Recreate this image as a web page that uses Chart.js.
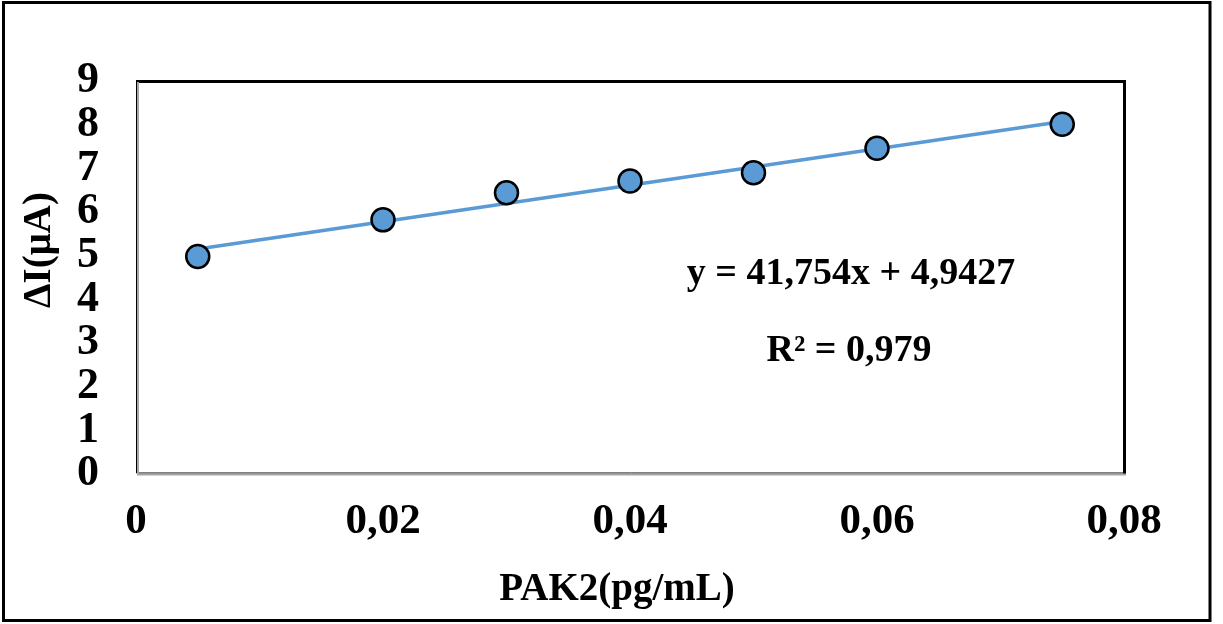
<!DOCTYPE html>
<html>
<head>
<meta charset="utf-8">
<script src="https://cdn.jsdelivr.net/npm/chart.js@4/dist/chart.umd.min.js"></script>
<style>
  html, body { margin: 0; padding: 0; background: #ffffff; }
  #wrap { width: 1223px; height: 624px; }
</style>
</head>
<body>
<div id="wrap"><canvas id="chart" width="1223" height="624"></canvas></div>
<script>
// PAK2 concentration (pg/mL) and measured current change ΔI (µA)
const concentrations = [0.005, 0.02, 0.03, 0.04, 0.05, 0.06, 0.075];
const deltaCurrent = [4.98, 5.82, 6.44, 6.71, 6.90, 7.46, 8.01];

// Linear fit reported on the chart
const fitSlope = 41.754;
const fitIntercept = 4.9427;
const fitR2 = 0.979;

const xTickValues = [0, 0.02, 0.04, 0.06, 0.08];
const yTickValues = [0, 1, 2, 3, 4, 5, 6, 7, 8, 9];

const xTitle = 'PAK2(pg/mL)';
const yTitle = 'ΔI(μA)';

const SERIF = '"Liberation Serif", "Times New Roman", serif';
const BLUE = '#5B9BD5';

const fmtComma = (v, digits) => v.toFixed(digits).replace('.', ',');
const xTickLabel = v => (v === 0 ? '0' : fmtComma(v, 2));

const xMin = Math.min(...concentrations);
const xMax = Math.max(...concentrations);
const fitLine = [
  { x: xMin, y: fitSlope * xMin + fitIntercept },
  { x: xMax, y: fitSlope * xMax + fitIntercept }
];

// Outer border, plot frame and the free-standing text (titles, equation)
const decorations = {
  id: 'decorations',
  beforeDatasetsDraw(chart) {
    const { ctx, chartArea: a } = chart;
    ctx.save();
    // plot frame: dark top/right, grey axis lines on left/bottom
    ctx.strokeStyle = '#000000';
    ctx.lineWidth = 3;
    ctx.beginPath();
    ctx.moveTo(a.left, a.top + 0.5);
    ctx.lineTo(a.right + 0.5, a.top + 0.5);
    ctx.lineTo(a.right + 0.5, a.bottom);
    ctx.stroke();
    ctx.lineWidth = 1;
    ctx.beginPath();
    ctx.moveTo(a.left + 0.5, a.top);
    ctx.lineTo(a.left + 0.5, a.bottom - 1);
    ctx.lineTo(a.right + 2, a.bottom - 1);
    ctx.stroke();
    ctx.strokeStyle = '#a6a6a6';
    ctx.lineWidth = 2;
    ctx.beginPath();
    ctx.moveTo(a.left + 2, a.top + 1);
    ctx.lineTo(a.left + 2, a.bottom + 0.5);
    ctx.lineTo(a.right + 2, a.bottom + 0.5);
    ctx.stroke();
    ctx.restore();
  },
  afterDraw(chart) {
    const { ctx } = chart;
    ctx.save();
    // outer chart border
    ctx.strokeStyle = '#000000';
    ctx.lineWidth = 3;
    ctx.strokeRect(3.5, 2.5, 1206.5, 618);

    ctx.fillStyle = '#000000';
    ctx.textAlign = 'center';
    ctx.textBaseline = 'middle';

    // fit equation and R²
    ctx.font = 'bold 38px ' + SERIF;
    ctx.fillText('y = ' + fmtComma(fitSlope, 3) + 'x + ' + fmtComma(fitIntercept, 4), 851, 274);
    ctx.fillText('R² = ' + fmtComma(fitR2, 3), 849, 351);

    // axis titles
    ctx.font = 'bold 39px ' + SERIF;
    ctx.fillText(xTitle, 617, 590);
    ctx.translate(40, 250);
    ctx.rotate(-Math.PI / 2);
    ctx.fillText(yTitle, 0, 0);
    ctx.restore();
  }
};

new Chart(document.getElementById('chart'), {
  data: {
    datasets: [
      {
        type: 'scatter',
        label: 'ΔI',
        data: concentrations.map((x, i) => ({ x, y: deltaCurrent[i] })),
        backgroundColor: BLUE,
        borderColor: '#000000',
        borderWidth: 2.5,
        pointRadius: 11.5,
        pointHoverRadius: 11.5,
        order: 0
      },
      {
        type: 'line',
        label: 'Linear fit',
        data: fitLine,
        borderColor: BLUE,
        borderWidth: 3.5,
        pointRadius: 0,
        fill: false,
        order: 1
      }
    ]
  },
  options: {
    responsive: false,
    animation: false,
    devicePixelRatio: 1,
    layout: { padding: { top: 81, right: 99, left: 0, bottom: 0 } },
    plugins: {
      legend: { display: false },
      tooltip: { enabled: false }
    },
    scales: {
      x: {
        type: 'linear',
        min: 0,
        max: 0.08,
        afterFit(scale) { scale.height = 150; },
        afterBuildTicks(scale) { scale.ticks = xTickValues.map(v => ({ value: v })); },
        grid: { display: false, drawTicks: false },
        border: { display: false },
        ticks: {
          padding: 22,
          color: '#000000',
          font: { family: SERIF, size: 43, weight: 'bold' },
          maxRotation: 0,
          autoSkip: false,
          callback: v => xTickLabel(v)
        }
      },
      y: {
        type: 'linear',
        min: 0,
        max: 9,
        afterFit(scale) { scale.width = 136; },
        afterBuildTicks(scale) { scale.ticks = yTickValues.map(v => ({ value: v })); },
        grid: { display: false, drawTicks: false },
        border: { display: false },
        ticks: {
          padding: 37,
          color: '#000000',
          font: { family: SERIF, size: 44, weight: 'bold' },
          autoSkip: false,
          callback: v => String(v)
        }
      }
    }
  },
  plugins: [decorations]
});
</script>
</body>
</html>
